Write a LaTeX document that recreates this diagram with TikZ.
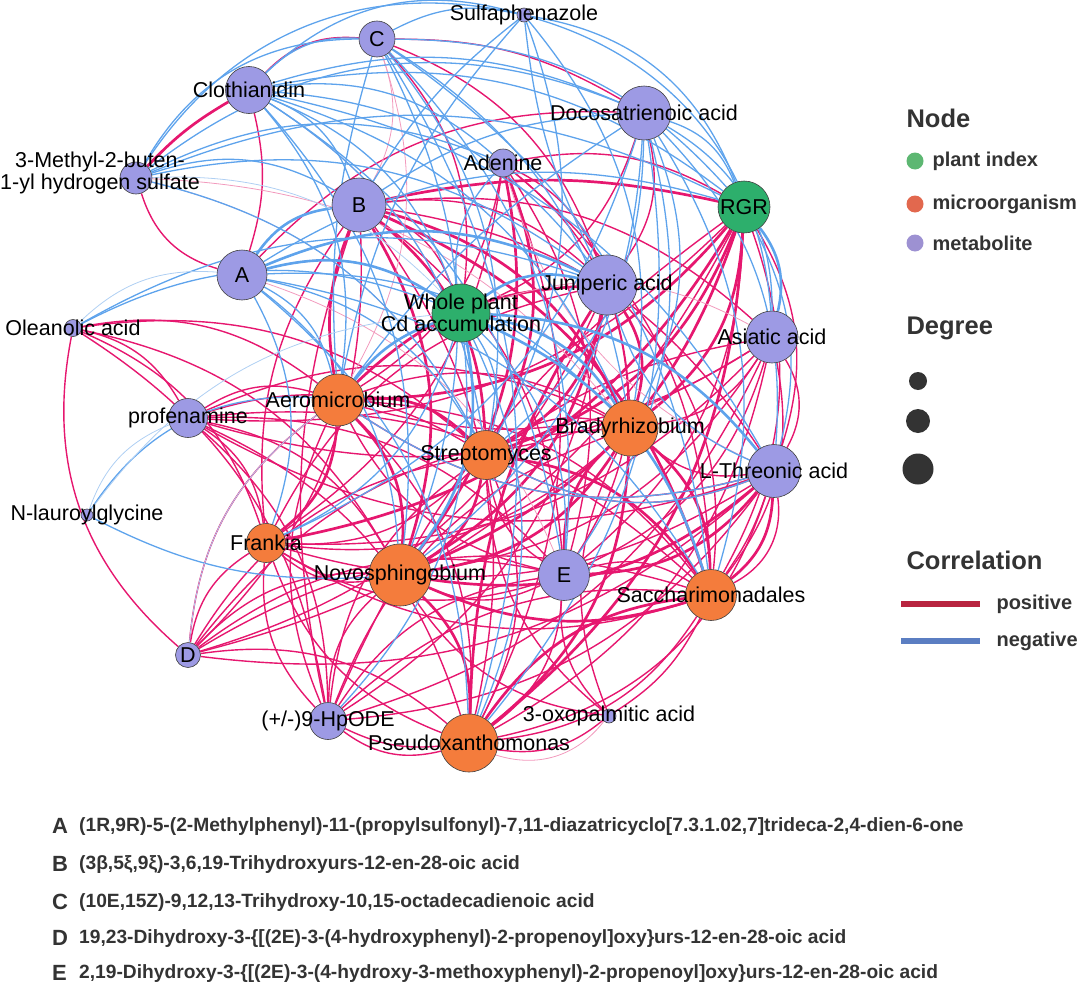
\documentclass[tikz,border=0pt]{standalone}
\usepackage{fontspec}
\setmainfont{Liberation Sans}
\usepackage{tikz}
\usetikzlibrary{shapes,arrows,backgrounds}

\definecolor{metcol}{HTML}{9D9AE4}
\definecolor{miccol}{HTML}{F47C3C}
\definecolor{placol}{HTML}{2DAF6C}
\definecolor{poscol}{HTML}{E6176F}
\definecolor{poslight}{HTML}{F29ABD}
\definecolor{negcol}{HTML}{5EA3EC}
\definecolor{neglight}{HTML}{AFCFF3}
\definecolor{legtext}{HTML}{333333}
\definecolor{lgreen}{HTML}{5DB772}
\definecolor{lorange}{HTML}{E2684E}
\definecolor{lpurple}{HTML}{9D91D2}
\definecolor{lred}{HTML}{B8243F}
\definecolor{lblue}{HTML}{5B7EC2}

\newcommand\netlabel{\fontsize{21.5}{22}\selectfont}
\newcommand\legtitle{\fontsize{25.5}{26}\selectfont\bfseries}
\newcommand\legitem{\fontsize{20}{21}\selectfont\bfseries}
\newcommand\notefont{\fontsize{19.2}{20}\selectfont\bfseries}
\newcommand\noteletter{\fontsize{22}{22}\selectfont\bfseries}

\begin{document}
\begin{tikzpicture}[x=1pt,y=1pt,
                every label/.style={font=\netlabel,text=black,inner sep=0pt},
                met/.style={circle,draw=black!75,line width=0.6pt,fill=metcol,minimum size=#1,inner sep=0pt},
                mic/.style={circle,draw=black!75,line width=0.6pt,fill=miccol,minimum size=#1,inner sep=0pt},
                pla/.style={circle,draw=black!75,line width=0.6pt,fill=placol,minimum size=#1,inner sep=0pt},
                poslink/.style={draw=poscol,line width=1.4pt,bend left=24},
                posthick/.style={draw=poscol,line width=2.7pt,bend left=24},
                poslite/.style={draw=poslight,line width=0.8pt,bend left=24},
                neglink/.style={draw=negcol,line width=1.3pt,bend left=24},
                negthick/.style={draw=negcol,line width=2.6pt,bend left=24},
                neglite/.style={draw=neglight,line width=0.8pt,bend left=24},
                ldot/.style={circle,minimum size=#1,inner sep=0pt},
                abbr/.style={anchor=west,font=\notefont,text=legtext,inner sep=0pt}]
  \useasboundingbox (0,0) rectangle (1085,-985);
  % network nodes
  \node[met=14pt,label=center:Sulfaphenazole]      (sul) at (524,-15)  {};
  \node[met=36pt,label=center:C]                   (c)   at (377,-39)  {};
  \node[met=47pt,label=center:Clothianidin]        (clo) at (249,-90)  {};
  \node[met=54pt,label=center:Docosatrienoic acid] (doc) at (644,-113) {};
  \node[met=32pt]                                  (mbs) at (136,-178) {};
  \node[met=28pt,label=center:Adenine]             (ade) at (503,-163) {};
  \node[met=54pt,label=center:B]                   (b)   at (359,-205) {};
  \node[pla=52pt,label=center:RGR]                 (rgr) at (744,-207) {};
  \node[met=50pt,label=center:A]                   (a)   at (242,-275) {};
  \node[met=60pt,label=center:Juniperic acid]      (jun) at (607,-285) {};
  \node[pla=58pt,label={[align=center]center:Whole plant\\Cd accumulation}] (wpc) at (461,-313) {};
  \node[met=17pt,label=center:Oleanolic acid]      (ole) at (73,-328)  {};
  \node[met=52pt,label=center:Asiatic acid]        (asi) at (772,-337) {};
  \node[mic=52pt,label=center:Aeromicrobium]       (aer) at (338,-400) {};
  \node[met=39pt,label=center:profenamine]         (pro) at (188,-418) {};
  \node[mic=56pt,label=center:Bradyrhizobium]      (bra) at (630,-428) {};
  \node[mic=49pt,label=center:Streptomyces]        (str) at (486,-455) {};
  \node[met=53pt,label=center:L-Threonic acid]     (lth) at (774,-471) {};
  \node[met=12pt,label=center:N-lauroylglycine]    (nla) at (87,-515)  {};
  \node[mic=39pt,label=center:Frankia]             (fra) at (266,-543) {};
  \node[mic=62pt,label=center:Novosphingobium]     (nov) at (400,-575) {};
  \node[met=51pt,label=center:E]                   (e)   at (564,-575) {};
  \node[mic=51pt,label=center:Saccharimonadales]   (sac) at (711,-595) {};
  \node[met=25pt,label=center:D]                   (d)   at (188,-655) {};
  \node[met=37pt,label=center:(+/-)9-HpODE]        (hpo) at (328,-721) {};
  \node[met=14pt,label=center:3-oxopalmitic acid]  (oxo) at (609,-716) {};
  \node[mic=58pt,label=center:Pseudoxanthomonas]   (pse) at (469,-743) {};
  \node[font=\netlabel,align=center,inner sep=0pt] (mbs-t) at (100,-173) {3-Methyl-2-buten-\\1-yl hydrogen sulfate};

  \begin{pgfonlayer}{background}
  % positive
  \draw[posthick] (rgr) edge (aer) edge (str) edge (nov) edge (bra) edge[bend right=12] (b) edge (pse) edge (fra);
  \draw[posthick] (b) edge[bend right=15] (aer) edge (nov) edge (bra) edge (str) edge (sac);
  \draw[posthick] (jun) edge (nov) edge[bend right=15] (pse) edge[bend right=20] (aer) edge (bra) edge (str);
  \draw[posthick] (bra) edge (nov) edge (pse) edge (sac);
  \draw[posthick] (aer) edge (nov) edge (fra) edge (str);
  \draw[posthick] (nov) edge (pse) edge[bend right=20] (sac);
  \draw[posthick] (str) edge (nov) edge (sac);
  \draw[posthick] (ade) edge (str) edge (nov);
  \draw[posthick] (lth) edge (sac) edge (nov) edge (e);
  \draw[posthick] (e) edge (bra);
  \draw[posthick] (pse) edge (sac);
  \draw[posthick] (mbs) edge[bend left=8] (clo);
  \draw[poslink] (b) edge (pse) edge (e) edge[bend right=20] (fra) edge[bend right=15] (hpo) edge (lth) edge (wpc) edge (jun) edge (asi) edge (d);
  \draw[poslink] (rgr) edge (sac) edge (e) edge (lth) edge[bend right=20] (ade) edge[bend right=15] (hpo) edge (d) edge (pro);
  \draw[poslink] (jun) edge (sac) edge (e) edge[bend right=25] (fra) edge (hpo) edge[bend right=20] (ade) edge (d);
  \draw[poslink] (ade) edge (aer) edge (bra) edge (pse) edge (sac) edge (e) edge (fra);
  \draw[poslink] (asi) edge (aer) edge[bend right=12] (str) edge (nov) edge (pse) edge (sac) edge[bend left=30] (lth) edge (fra) edge (e) edge (hpo) edge (pro) edge (bra);
  \draw[poslink] (lth) edge (aer) edge (str) edge (bra) edge[bend left=30] (pse) edge (fra) edge (pro) edge (hpo) edge[bend left=35] (sac) edge[bend left=8] (sac) edge (d);
  \draw[poslink] (pro) edge (aer) edge (str) edge (bra) edge (nov) edge (fra) edge (sac) edge (e) edge (pse) edge (hpo);
  \draw[poslink] (d) edge[bend left=30] (ole) edge (fra) edge (nov) edge (aer) edge (str) edge (e) edge (bra) edge (pse) edge (sac);
  \draw[poslink] (ole) edge (fra) edge (aer) edge (nov) edge (str) edge (pro) edge (hpo);
  \draw[poslink] (hpo) edge (fra) edge (aer) edge (nov) edge (str) edge (bra) edge (sac) edge (e) edge[bend right=15] (pse);
  \draw[poslink] (oxo) edge (e) edge (pse) edge[bend right=15] (sac) edge (bra) edge (nov) edge (str);
  \draw[poslink] (e) edge (aer) edge (str) edge (nov) edge (pse) edge (sac) edge (fra);
  \draw[poslink] (aer) edge (bra) edge (pse) edge (sac);
  \draw[poslink] (str) edge (bra) edge (pse) edge (fra);
  \draw[poslink] (bra) edge (fra);
  \draw[poslink] (nov) edge (fra);
  \draw[poslink] (sac) edge[bend left=25] (pse) edge (fra);
  \draw[poslink] (pse) edge (fra) edge[bend left=25] (hpo);
  \draw[poslink] (a) edge[bend left=28] (mbs);
  \draw[poslink] (clo) edge[bend left=15] (a) edge[bend left=25] (c);
  \draw[poslink] (c) edge[bend left=15] (doc) edge (wpc) edge (jun);
  \draw[poslink] (a) edge (wpc) edge (doc);
  \draw[poslink] (doc) edge (wpc) edge (jun);
  \draw[poslite] (mbs) edge (bra) edge (str);
  \draw[poslite] (oxo) edge[bend left=35] (pse);
  \draw[poslite] (c) edge (b) edge (aer);
  \draw[poslite] (clo) edge (str);
  \draw[poslite] (a) edge (e);
  \draw[poslite] (wpc) edge (asi);
  \draw[poslite] (lth) edge (ade);
  % negative
  \draw[negthick] (wpc) edge (bra) edge[bend right=15] (aer) edge (lth) edge (nov) edge (sac) edge (jun);
  \draw[negthick] (a) edge (b) edge (jun) edge (wpc);
  \draw[negthick] (rgr) edge[bend left=25] (asi);
  \draw[neglink] (clo) edge[bend left=30] (sul) edge[bend left=20] (doc) edge (c) edge (b) edge (rgr) edge (jun) edge (aer) edge (str) edge (bra) edge (nov) edge (ade) edge (wpc) edge (e) edge (lth);
  \draw[neglink] (mbs) edge[bend left=35] (sul) edge[bend left=30] (doc) edge[bend left=30] (c) edge (b) edge (rgr) edge (jun) edge (str) edge (ade);
  \draw[neglink] (sul) edge[bend left=30] (rgr) edge[bend left=35] (asi) edge[bend right=10] (jun) edge[bend right=10] (b) edge[bend right=15] (aer) edge (str) edge (bra);
  \draw[neglink] (doc) edge[bend left=25] (rgr) edge[bend left=30] (asi) edge[bend right=15] (b) edge[bend right=10] (aer) edge (str) edge (bra) edge (nov) edge (sac) edge (e) edge (lth) edge (pse) edge (fra);
  \draw[neglink] (c) edge[bend left=20] (sul) edge[bend right=10] (aer) edge (str) edge (bra) edge (nov) edge (rgr) edge (sac) edge (pse) edge (e);
  \draw[neglink] (a) edge (rgr) edge (aer) edge (str) edge (bra) edge (nov) edge (sac) edge (pse) edge (fra);
  \draw[neglink] (wpc) edge (str) edge (e) edge (fra) edge (pse) edge (hpo) edge (ade);
  \draw[neglink] (nla) edge[bend left=30] (aer) edge[bend right=15] (nov);
  \draw[neglink] (ole) edge (wpc) edge (jun);
  \draw[neglink] (rgr) edge[bend left=20] (lth);
  \draw[neglink] (lth) edge (aer) edge (str) edge (jun);
  \draw[neglite] (nla) edge (pro) edge (wpc);
  \draw[neglite] (ole) edge (a);
  \draw[neglite] (d) edge (aer);
  \draw[neglite] (mbs) edge (wpc);
  \end{pgfonlayer}

  % legend
  \node[anchor=west,font=\legtitle,text=legtext] (lnode) at (903,-118) {Node};
  \node[ldot=17pt,fill=lgreen]  (lpla) at (915,-161) {};
  \node[anchor=west,font=\legitem,text=legtext] (tpla) at (929,-161) {plant index};
  \node[ldot=17pt,fill=lorange] (lmic) at (915,-204) {};
  \node[anchor=west,font=\legitem,text=legtext] (tmic) at (929,-204) {microorganism};
  \node[ldot=17pt,fill=lpurple] (lmet) at (915,-243) {};
  \node[anchor=west,font=\legitem,text=legtext] (tmet) at (929,-243) {metabolite};
  \node[anchor=west,font=\legtitle,text=legtext] (ldeg) at (903,-328) {Degree};
  \node[ldot=18pt,fill=legtext] (ld1) at (918,-381) {};
  \node[ldot=24pt,fill=legtext] (ld2) at (918,-421) {};
  \node[ldot=31pt,fill=legtext] (ld3) at (918,-469) {};
  \node[anchor=west,font=\legtitle,text=legtext] (lcor) at (903,-560) {Correlation};
  \coordinate (lp1) at (901,-604);
  \coordinate (lp2) at (980,-604);
  \coordinate (ln1) at (901,-641);
  \coordinate (ln2) at (980,-641);
  \draw[lred,line width=6pt]  (lp1) -- (lp2);
  \draw[lblue,line width=6pt] (ln1) -- (ln2);
  \node[anchor=west,font=\legitem,text=legtext] (tpos) at (993,-604) {positive};
  \node[anchor=west,font=\legitem,text=legtext] (tneg) at (993,-641) {negative};

  % abbreviations
  \node[abbr,font=\noteletter] (na) at (52,-826) {A};
  \node[abbr] (ta) at (79,-827) {(1R,9R)-5-(2-Methylphenyl)-11-(propylsulfonyl)-7,11-diazatricyclo[7.3.1.02,7]trideca-2,4-dien-6-one};
  \node[abbr,font=\noteletter] (nb) at (52,-864) {B};
  \node[abbr] (tb) at (79,-865) {(3β,5ξ,9ξ)-3,6,19-Trihydroxyurs-12-en-28-oic acid};
  \node[abbr,font=\noteletter] (nc) at (52,-902) {C};
  \node[abbr] (tc) at (79,-903) {(10E,15Z)-9,12,13-Trihydroxy-10,15-octadecadienoic acid};
  \node[abbr,font=\noteletter] (nd) at (52,-938) {D};
  \node[abbr] (td) at (79,-939) {19,23-Dihydroxy-3-\{[(2E)-3-(4-hydroxyphenyl)-2-propenoyl]oxy\}urs-12-en-28-oic acid};
  \node[abbr,font=\noteletter] (ne) at (52,-973) {E};
  \node[abbr] (te) at (79,-974) {2,19-Dihydroxy-3-\{[(2E)-3-(4-hydroxy-3-methoxyphenyl)-2-propenoyl]oxy\}urs-12-en-28-oic acid};
\end{tikzpicture}
\end{document}
